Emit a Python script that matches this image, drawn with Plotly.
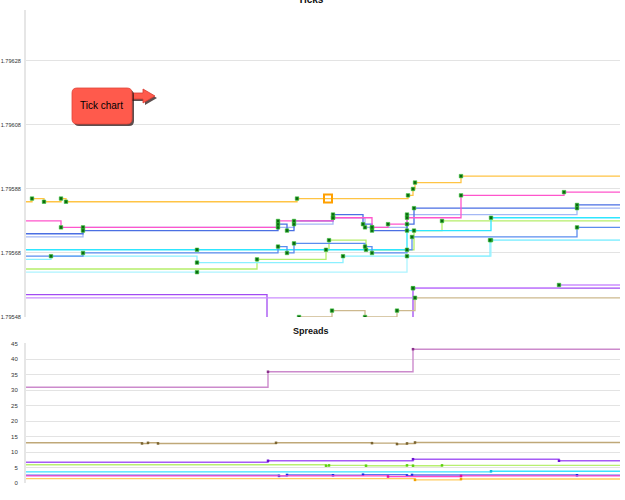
import plotly.graph_objects as go

END_T = 594

# ---------------- Ticks (top) : time (s) / price ----------------
orange_t = [0, 6, 18, 35, 40, 271, 382, 387, 389, 435]
orange_p = [1.79584, 1.79585, 1.79584, 1.79585, 1.79584, 1.79585, 1.79586, 1.79588, 1.79590, 1.79592]

pink_t = [0, 35, 252, 307, 346, 362, 381, 435, 538]
pink_p = [1.79578, 1.79576, 1.79578, 1.79579, 1.79576, 1.79577, 1.79579, 1.79586, 1.79587]

royal_t = [0, 57, 252, 261, 268, 307, 337, 346, 381, 388, 551]
royal_p = [1.79574, 1.79575, 1.79577, 1.79575, 1.79578, 1.79580, 1.79577, 1.79575, 1.79577, 1.79582, 1.79583]

lavender_t = [0, 57, 252, 268, 307, 339, 346, 381, 551]
lavender_p = [1.79573, 1.79576, 1.79576, 1.79577, 1.79579, 1.79576, 1.79576, 1.79580, 1.79582]

medblue_t = [0, 57, 252, 261, 268, 339, 346, 381, 386, 551]
medblue_p = [1.79567, 1.79568, 1.79570, 1.79568, 1.79571, 1.79570, 1.79568, 1.79569, 1.79573, 1.79576]

cyan_t = [0, 171, 381, 465]
cyan_p = [1.79569, 1.79569, 1.79575, 1.79579]

lcyan_t = [0, 25, 171, 317, 464]
lcyan_p = [1.79566, 1.79567, 1.79565, 1.79567, 1.79572]

lcyan2_t = [0, 171, 381, 465]
lcyan2_p = [1.79562, 1.79562, 1.79567, 1.79572]

ygreen_t = [0, 231, 300, 303, 340, 388, 416]
ygreen_p = [1.79563, 1.79566, 1.79569, 1.79572, 1.79569, 1.79575, 1.79578]

purple_t = [0, 241, 387]
purple_p = [1.79555, 1.79540, 1.79557]

violet_t = [0, 387, 533]
violet_p = [1.79554, 1.79557, 1.79558]

tan_t = [0, 273, 306, 339, 371, 389]
tan_p = [1.79546, 1.79548, 1.79550, 1.79548, 1.79550, 1.79554]

selected_t = [302]
selected_p = [1.79585]

# ---------------- Spreads (bottom) ----------------
sp_plum_t = [0, 242, 387]
sp_plum = [31, 36, 43.3]
sp_tan_t = [0, 116, 122, 132, 250, 346, 371, 381, 389]
sp_tan = [13, 12.8, 13, 12.8, 13, 12.9, 12.6, 12.8, 13.1]
sp_purple_t = [0, 242, 387, 533]
sp_purple = [6.7, 7.2, 7.7, 7.2]
sp_green_t = [0, 300, 303, 340, 381, 387, 416]
sp_green = [5.9, 5.6, 5.7, 5.6, 5.7, 5.6, 5.7]
sp_cyan_t = [0, 465]
sp_cyan = [3.6, 3.8]
sp_blue_t = [0, 253, 261, 307, 337, 381, 386, 551]
sp_blue = [2.5, 2.3, 2.6, 2.5, 2.7, 2.4, 2.6, 2.5]
sp_pink_t = [0, 362, 435]
sp_pink = [2.3, 2.1, 2.3]
sp_orange_t = [0, 389, 435]
sp_orange = [1.4, 1.0, 1.3]

fig = go.Figure()

top_series = [
    (purple_t, purple_p, "#A24BF2"),
    (violet_t, violet_p, "#CB8EFF"),
    (tan_t, tan_p, "#CDB98E"),
    (lcyan2_t, lcyan2_p, "#ADF4FF"),
    (ygreen_t, ygreen_p, "#B5EE6A"),
    (lcyan_t, lcyan_p, "#8AF0FF"),
    (cyan_t, cyan_p, "#2EE6FF"),
    (medblue_t, medblue_p, "#5B8DEF"),
    (lavender_t, lavender_p, "#A4B8F5"),
    (royal_t, royal_p, "#4A6FE3"),
    (pink_t, pink_p, "#FF55CC"),
    (orange_t, orange_p, "#FFC444"),
]

for t, p, c in top_series:
    fig.add_trace(go.Scatter(x=t + [END_T], y=p + [p[-1]], mode="lines",
                             line=dict(color=c, width=1.3, shape="hv"),
                             xaxis="x", yaxis="y", hoverinfo="skip", showlegend=False))
for t, p, c in top_series:
    fig.add_trace(go.Scatter(x=t[1:], y=p[1:], mode="markers",
                             marker=dict(symbol="square", size=3.5, color="#0B6B10",
                                         line=dict(color="#3CC83C", width=0.6)),
                             xaxis="x", yaxis="y", hoverinfo="skip", showlegend=False))

fig.add_trace(go.Scatter(x=selected_t, y=selected_p, mode="markers",
                         marker=dict(symbol="square-open", size=8, color="#FFA000",
                                     line=dict(color="#FFA000", width=2)),
                         xaxis="x", yaxis="y", showlegend=False))

bottom_series = [
    (sp_plum_t, sp_plum, "#CC8ACC", "#8A2F8A"),
    (sp_tan_t, sp_tan, "#BFA878", "#7A6430"),
    (sp_purple_t, sp_purple, "#A65CF5", "#6A10D0"),
    (sp_green_t, sp_green, "#B8F070", "#5CD010"),
    (sp_cyan_t, sp_cyan, "#38E4FF", "#10C0E0"),
    (sp_blue_t, sp_blue, "#5C74F0", "#1030E0"),
    (sp_pink_t, sp_pink, "#FF4CC8", "#E010A0"),
    (sp_orange_t, sp_orange, "#FFCB60", "#F0A000"),
]
for t, v, c, mc in bottom_series:
    fig.add_trace(go.Scatter(x=t + [END_T], y=v + [v[-1]], mode="lines",
                             line=dict(color=c, width=1.4, shape="hv"),
                             xaxis="x2", yaxis="y2", hoverinfo="skip", showlegend=False))
    fig.add_trace(go.Scatter(x=t[1:], y=v[1:], mode="markers",
                             marker=dict(symbol="square", size=2.5, color=mc),
                             xaxis="x2", yaxis="y2", hoverinfo="skip", showlegend=False))

W, H = 625, 500
L, R, T, B = 26, 5, 10, 17
PW, PH = W - L - R, H - T - B


def px(x):
    return (x - L) / PW


def py(y):
    return (H - B - y) / PH


def rrect(x0, y0, x1, y1, r):
    rx, ry = r / PW, r / PH
    X0, X1 = px(x0), px(x1)
    Y0, Y1 = py(y0), py(y1)  # Y0 top (larger)
    return (f"M {X0+rx},{Y0} L {X1-rx},{Y0} Q {X1},{Y0} {X1},{Y0-ry} "
            f"L {X1},{Y1+ry} Q {X1},{Y1} {X1-rx},{Y1} L {X0+rx},{Y1} "
            f"Q {X0},{Y1} {X0},{Y1+ry} L {X0},{Y0-ry} Q {X0},{Y0} {X0+rx},{Y0} Z")


def arrow(dx=0, dy=0):
    pts = [(130, 93), (143, 93), (143, 89), (155, 96), (143, 103), (143, 99), (130, 99)]
    s = "M " + " L ".join(f"{px(a+dx)},{py(b+dy)}" for a, b in pts) + " Z"
    return s


shapes = [
    dict(type="path", xref="paper", yref="paper", path=arrow(2, 2),
         fillcolor="rgba(40,20,20,0.75)", line=dict(width=0)),
    dict(type="path", xref="paper", yref="paper", path=arrow(),
         fillcolor="#FF5A4C", line=dict(color="#D83A30", width=0.8)),
    dict(type="path", xref="paper", yref="paper", path=rrect(74, 90, 134, 126, 5),
         fillcolor="rgba(40,20,20,0.75)", line=dict(width=0)),
    dict(type="path", xref="paper", yref="paper", path=rrect(72, 88, 132, 124, 5),
         fillcolor="#FF5A4C", line=dict(color="#E04438", width=0.8)),
]

annotations = [
    dict(text="Tick chart", x=px(101), y=py(106), xref="paper", yref="paper",
         xanchor="center", yanchor="middle",
         showarrow=False, font=dict(family="Liberation Sans", size=10, color="#000")),
    dict(text="<b>Ticks</b>", x=px(311), y=py(0), xref="paper", yref="paper",
         xanchor="center", yanchor="middle",
         showarrow=False, font=dict(family="Liberation Sans", size=10, color="#111")),
    dict(text="<b>Spreads</b>", x=px(311), y=py(331), xref="paper", yref="paper",
         xanchor="center", yanchor="middle",
         showarrow=False, font=dict(family="Liberation Sans", size=9, color="#111")),
]

axis_common = dict(showgrid=False, zeroline=False, showticklabels=False, showline=False,
                   range=[0, END_T], fixedrange=True, automargin=False)

fig.update_layout(
    width=W, height=H,
    margin=dict(l=L, r=R, t=T, b=B, autoexpand=False),
    paper_bgcolor="white", plot_bgcolor="white",
    showlegend=False,
    shapes=shapes, annotations=annotations,
    xaxis=dict(anchor="y", domain=[0, 1], **axis_common),
    xaxis2=dict(anchor="y2", domain=[0, 1], **axis_common),
    yaxis=dict(anchor="x", domain=[py(317), 1], range=[1.79548, 1.796439],
               tick0=1.79548, dtick=0.0002, tickformat=".5f", automargin=False,
               showgrid=True, gridcolor="#E3E3E3", gridwidth=1,
               showline=True, linecolor="#E6E6E6", linewidth=2, zeroline=False,
               ticks="", tickfont=dict(family="Liberation Sans", size=5.6, color="#333"),
               ticklabelstandoff=2),
    yaxis2=dict(anchor="x2", domain=[0, py(343)], range=[0, 45.3],
                tick0=0, dtick=5, automargin=False,
                showgrid=True, gridcolor="#E3E3E3", gridwidth=1,
                showline=True, linecolor="#E6E6E6", linewidth=2, zeroline=False,
                ticks="", tickfont=dict(family="Liberation Sans", size=6, color="#333"),
                ticklabelstandoff=5),
)

fig.write_html("out.html")
